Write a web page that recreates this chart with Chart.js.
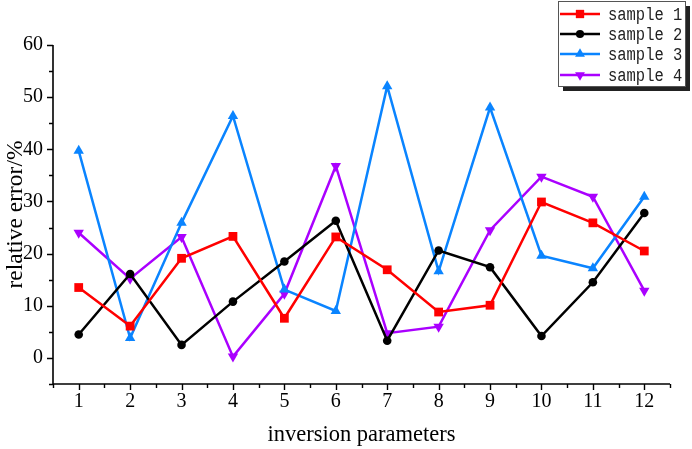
<!DOCTYPE html>
<html>
<head>
<meta charset="utf-8">
<script src="https://cdn.jsdelivr.net/npm/chart.js@4/dist/chart.umd.min.js"></script>
<style>
html,body{margin:0;padding:0;background:#fff;}
#wrap{width:692px;height:449px;position:relative;}
</style>
</head>
<body>
<div id="wrap"><canvas id="c" width="692" height="449"></canvas></div>
<script>
const categories = [1,2,3,4,5,6,7,8,9,10,11,12];
const sample1 = [13.5, 6.1, 19.1, 23.3, 7.6, 23.2, 16.9, 8.8, 10.1, 29.9, 25.9, 20.5];
const sample2 = [4.5, 16.1, 2.5, 10.8, 18.5, 26.3, 3.3, 20.6, 17.4, 4.2, 14.5, 27.8];
const sample3 = [39.7, 3.8, 25.9, 46.4, 13.1, 9.0, 52.1, 16.6, 48.0, 19.6, 17.2, 30.9];
const sample4 = [24.0, 15.2, 23.2, 0.25, 12.3, 36.8, 4.75, 6.0, 24.5, 34.75, 30.9, 12.9];
const seriesNames = ['sample 1','sample 2','sample 3','sample 4'];
const yTicks = [0,10,20,30,40,50,60];

const colors = ['#FF0000','#000000','#0A84FF','#AA00FF'];
const styles = [
  {pointStyle:'rect', radius:6.2, rotation:0},
  {pointStyle:'circle', radius:4.3, rotation:0},
  {pointStyle:'triangle', radius:6, rotation:0},
  {pointStyle:'triangle', radius:6, rotation:180}
];
const allSeries = [sample1, sample2, sample3, sample4];

const datasets = allSeries.map((s,i)=>({
  label: seriesNames[i],
  data: categories.map((c,j)=>({x:c, y:s[j]})),
  borderColor: colors[i],
  backgroundColor: colors[i],
  borderWidth: 2.5,
  pointStyle: styles[i].pointStyle,
  pointRadius: styles[i].radius,
  pointRotation: styles[i].rotation,
  pointBorderWidth: 0,
  pointHoverRadius: styles[i].radius,
  tension: 0
}));

function drawMarker(ctx, style, x, y, r, rot, color){
  ctx.save();
  ctx.fillStyle = color;
  ctx.translate(x,y);
  ctx.rotate(rot*Math.PI/180);
  ctx.beginPath();
  if(style==='rect'){
    const s = Math.SQRT1_2*r;
    ctx.rect(-s,-s,2*s,2*s);
  } else if(style==='circle'){
    ctx.arc(0,0,r,0,Math.PI*2);
  } else {
    ctx.moveTo(0,-r);
    ctx.lineTo(r*0.866, r*0.5);
    ctx.lineTo(-r*0.866, r*0.5);
    ctx.closePath();
  }
  ctx.fill();
  ctx.restore();
}

const axisPlugin = {
  id:'axisPlugin',
  afterDraw(chart){
    const ctx = chart.ctx;
    const xs = chart.scales.x, ys = chart.scales.y;
    const ca = chart.chartArea;
    ctx.save();
    ctx.strokeStyle = '#000';
    ctx.lineWidth = 1.6;
    ctx.beginPath();
    ctx.moveTo(ca.left, ca.top);
    ctx.lineTo(ca.left, ca.bottom);
    ctx.lineTo(ca.right, ca.bottom);
    ctx.stroke();
    ctx.lineWidth = 1.4;
    ctx.beginPath();
    for(let v=0.5; v<=12.51; v+=0.5){
      const px = Math.round(xs.getPixelForValue(v))+0.5;
      const len = Number.isInteger(v) ? 6 : 4;
      ctx.moveTo(px, ca.bottom);
      ctx.lineTo(px, ca.bottom+len);
    }
    for(let v=-5; v<=60.01; v+=5){
      const py = Math.round(ys.getPixelForValue(v))+0.5;
      const len = (v%10===0) ? 6 : 4;
      ctx.moveTo(ca.left, py);
      ctx.lineTo(ca.left-len, py);
    }
    ctx.stroke();

    // legend
    const bx=558, by=1, bw=127, bh=85;
    ctx.fillStyle='#222';
    ctx.fillRect(bx+5, by+5, bw, bh);
    ctx.fillStyle='#fff';
    ctx.fillRect(bx, by, bw, bh);
    ctx.strokeStyle='#555';
    ctx.lineWidth=1;
    ctx.strokeRect(bx+0.5, by+0.5, bw, bh);
    ctx.textBaseline='middle';
    const rowsY=[14,34,54,75];
    chart.data.datasets.forEach((d,i)=>{
      const y=rowsY[i];
      ctx.strokeStyle=d.borderColor;
      ctx.lineWidth=2.5;
      ctx.beginPath();
      ctx.moveTo(560,y); ctx.lineTo(600,y); ctx.stroke();
      drawMarker(ctx, d.pointStyle, 580, y, d.pointRadius*0.95, d.pointRotation, d.borderColor);
      ctx.save();
      ctx.translate(608, y+1);
      ctx.scale(0.86, 1);
      ctx.font = '18px "Liberation Mono", monospace';
      ctx.fillStyle='#222';
      ctx.fillText(d.label, 0, 0);
      ctx.restore();
    });
    ctx.restore();
  }
};

new Chart(document.getElementById('c'), {
  type:'line',
  data:{datasets},
  options:{
    responsive:false,
    animation:false,
    devicePixelRatio:1,
    layout:{padding:{top:45, right:22, left:0, bottom:0}},
    plugins:{legend:{display:false}, tooltip:{enabled:false}},
    scales:{
      x:{
        type:'linear', min:0.5, max:12.5,
        grid:{display:false, drawTicks:false}, border:{display:false},
        afterBuildTicks(scale){ scale.ticks = categories.map(v=>({value:v})); },
        ticks:{color:'#000', padding:6, font:{family:'"Liberation Serif", serif', size:20}, maxRotation:0, autoSkip:false},
        title:{display:true, text:'inversion parameters', color:'#000', font:{family:'"Liberation Serif", serif', size:22.5}, padding:{top:0,bottom:0}},
        afterFit(scale){ scale.height = 65; }
      },
      y:{
        type:'linear', min:-5, max:60,
        grid:{display:false, drawTicks:false}, border:{display:false},
        afterBuildTicks(scale){ scale.ticks = yTicks.map(v=>({value:v})); },
        ticks:{color:'#000', padding:10, font:{family:'"Liberation Serif", serif', size:20}},
        title:{display:true, text:'relative error/%', color:'#000', font:{family:'"Liberation Serif", serif', size:23.5}, padding:{top:2,bottom:0}},
        afterFit(scale){ scale.width = 53; }
      }
    }
  },
  plugins:[axisPlugin]
});
</script>
</body>
</html>
